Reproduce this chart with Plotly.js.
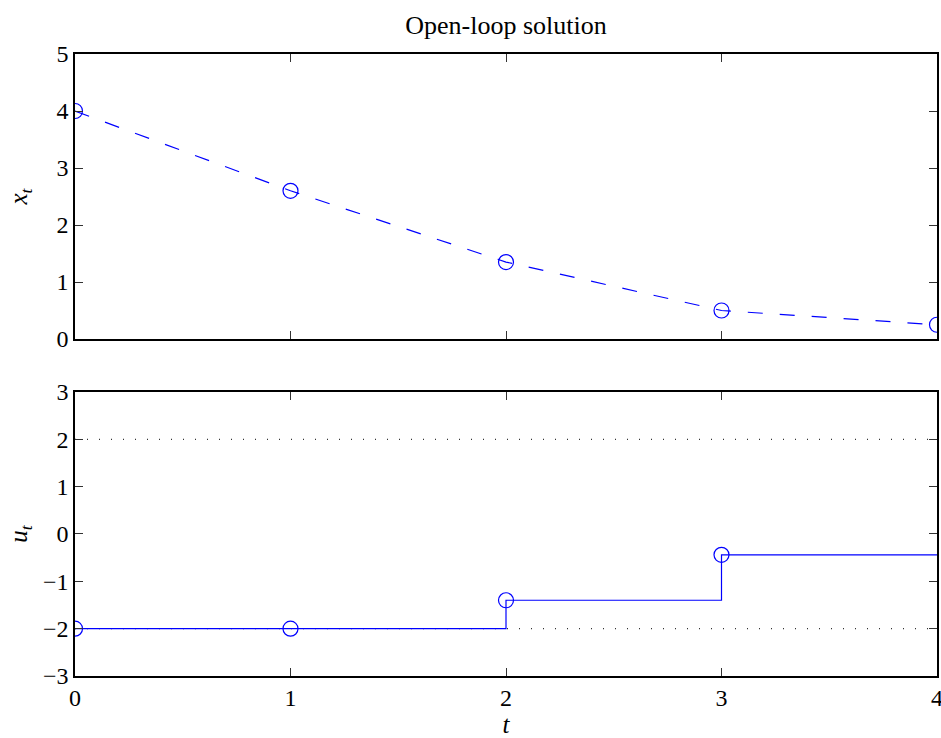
<!DOCTYPE html>
<html>
<head>
<meta charset="utf-8">
<script src="https://cdn.plot.ly/plotly-3.0.1.min.js"></script>
<style>html,body{margin:0;padding:0;background:#fff;overflow:hidden;}#chart{width:941px;height:738px;}</style>
</head>
<body>
<div id="chart"></div>
<script>
// Data
const t = [0, 1, 2, 3, 4];
const xState = [4.0, 2.6, 1.35, 0.5, 0.25];
const tControl = [0, 1, 2, 3];
const uControl = [-2.0, -2.0, -1.40, -0.44];
const uMax = 2;
const uMin = -2;
const tHorizon = 4;
const titleText = 'Open-loop solution';

const blue = '#0000ff';
const fontFam = 'Liberation Serif';

// stairs line: hold last value until horizon end
const tStairs = tControl.concat([tHorizon]);
const uStairs = uControl.concat([uControl[uControl.length - 1]]);

const traces = [
  { x: t, y: xState, xaxis: 'x', yaxis: 'y', mode: 'lines+markers', type: 'scatter',
    line: { color: blue, width: 1.2, dash: '15px,17px' },
    marker: { symbol: 'circle-open', size: 15, color: blue, line: { width: 1.2, color: blue } } },
  { x: [0, tHorizon], y: [uMax, uMax], xaxis: 'x2', yaxis: 'y2', mode: 'lines', type: 'scatter',
    line: { color: '#333', width: 1.2, dash: '1px,11px' } },
  { x: [0, tHorizon], y: [uMin, uMin], xaxis: 'x2', yaxis: 'y2', mode: 'lines', type: 'scatter',
    line: { color: '#333', width: 1.2, dash: '1px,11px' } },
  { x: tStairs, y: uStairs, xaxis: 'x2', yaxis: 'y2', mode: 'lines', type: 'scatter',
    line: { color: blue, width: 1.2, shape: 'hv' } },
  { x: tControl, y: uControl, xaxis: 'x2', yaxis: 'y2', mode: 'markers', type: 'scatter',
    marker: { symbol: 'circle-open', size: 15, color: blue, line: { width: 1.2, color: blue } } }
];

const axCommon = {
  showgrid: false, zeroline: false, showline: true, linecolor: '#000', linewidth: 1.6,
  mirror: 'ticks', ticks: 'inside', ticklen: 8, tickwidth: 1, tickcolor: '#333',
  ticklabeloverflow: 'allow',
  tickfont: { family: fontFam, size: 24, color: '#000' }, fixedrange: true
};

const layout = {
  width: 941, height: 738,
  margin: { l: 75, r: 4, t: 54, b: 62 },
  paper_bgcolor: '#fff', plot_bgcolor: '#fff',
  showlegend: false,
  font: { family: fontFam, color: '#000' },
  title: { text: titleText, x: 0.5, xref: 'paper', xanchor: 'center', y: 1 - 25 / 738, yref: 'container', yanchor: 'middle',
    font: { family: fontFam, size: 26, color: '#000' } },
  xaxis: Object.assign({}, axCommon, { domain: [0, 1], anchor: 'y', range: [0, 4], dtick: 1, tick0: 0, showticklabels: false }),
  yaxis: Object.assign({}, axCommon, { domain: [0.5418, 1], anchor: 'x', range: [0, 5], dtick: 1, tick0: 0,
    title: { text: '<i>x</i><sub><i>t</i></sub>', standoff: 22, font: { family: fontFam, size: 25, color: '#000' } } }),
  xaxis2: Object.assign({}, axCommon, { domain: [0, 1], anchor: 'y2', range: [0, 4], dtick: 1, tick0: 0,
    title: { text: '<i>t</i>', standoff: 6, font: { family: fontFam, size: 25, color: '#000' } } }),
  yaxis2: Object.assign({}, axCommon, { domain: [0, 0.4566], anchor: 'x2', range: [-3, 3], dtick: 1, tick0: 0,
    title: { text: '<i>u</i><sub><i>t</i></sub>', standoff: 8, font: { family: fontFam, size: 25, color: '#000' } } })
};

Plotly.newPlot('chart', traces, layout, { displayModeBar: false, staticPlot: true });
</script>
</body>
</html>
